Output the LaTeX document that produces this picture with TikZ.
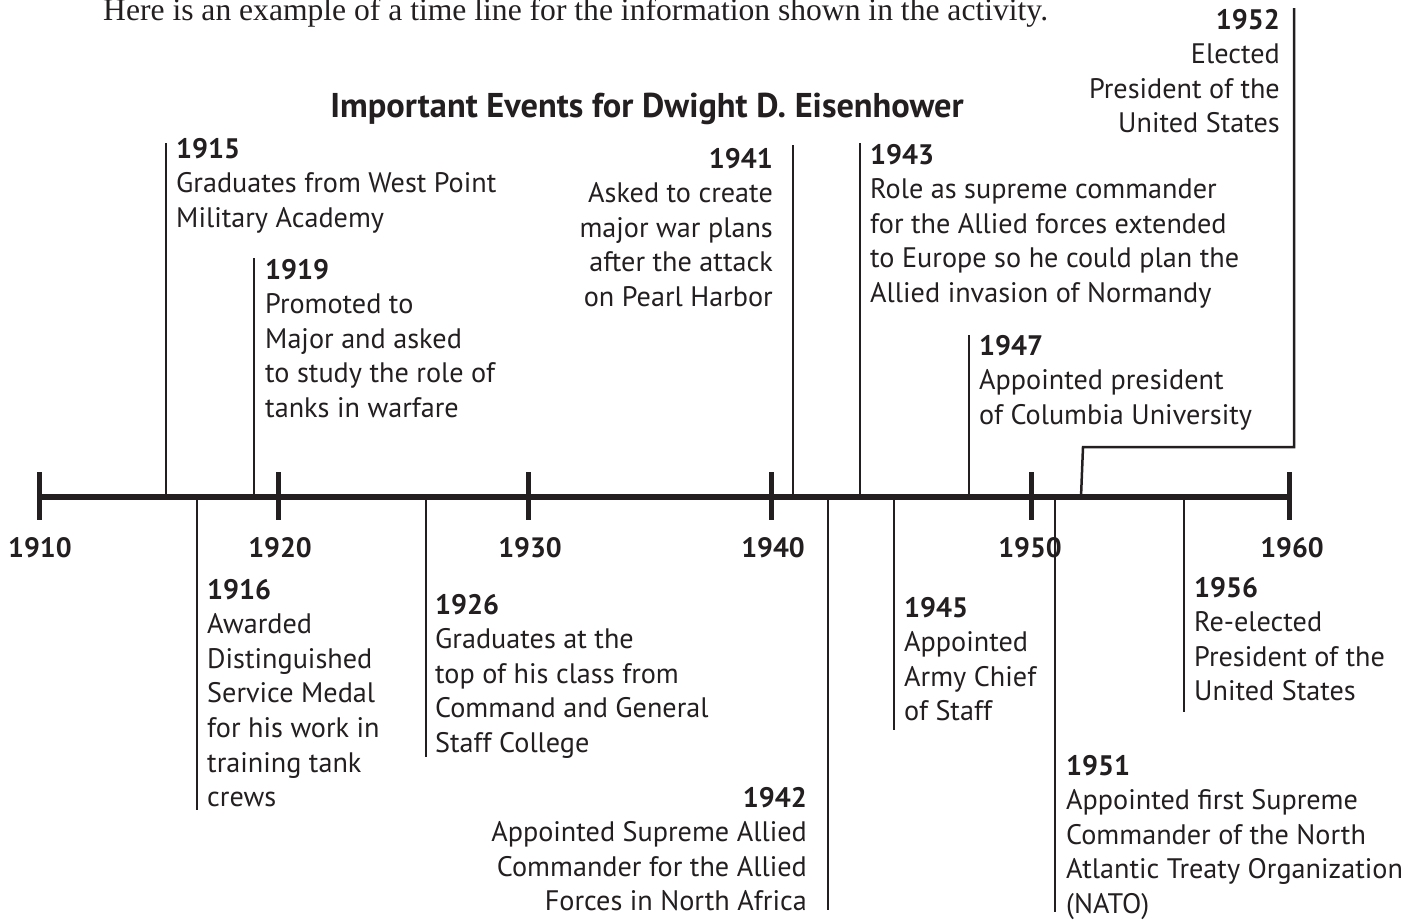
\documentclass[tikz,border=0pt]{standalone}
\usepackage{fontspec}
\setmainfont{PT Sans}
\newfontfamily\introfont{Liberation Serif}
\definecolor{ink}{RGB}{35,31,32}
\newcommand\evl[1]{\begin{tabular}[t]{@{}l@{}}#1\end{tabular}}
\newcommand\evr[1]{\begin{tabular}[t]{@{}r@{}}#1\end{tabular}}
\begin{document}
\begin{tikzpicture}[x=1pt,y=-1pt,
  axisline/.style={draw=ink,line width=6pt},
  tickline/.style={draw=ink,line width=5pt},
  evline/.style={draw=ink,line width=2.5pt},
  evtext/.style={inner sep=0pt,text=ink,font=\fontsize{28.2}{34.6}\selectfont},
  yearlab/.style={inner sep=0pt,text=ink,font=\bfseries\fontsize{28}{34}\selectfont,anchor=base},
]
\useasboundingbox (0,0) rectangle (1420,919);
% intro sentence (cut at top, as in the reference)
\node[inner sep=0pt,text=ink,anchor=base west,font=\introfont\fontsize{31.6}{34}\selectfont] (intro) at (103,20) {Here is an example of a time line for the information shown in the activity.};
% title
\node[inner sep=0pt,text=ink,anchor=base,font=\bfseries\fontsize{34.4}{40}\selectfont] (title) at (647,117) {Important Events for Dwight D. Eisenhower};
% axis
\coordinate (a0) at (38,497);
\coordinate (a1) at (1290,497);
\draw[axisline] (a0) -- (a1);
\foreach \x/\y in {39/1910,278/1920,528/1930,771/1940,1031/1950,1289/1960}{
  \coordinate (t\y a) at (\x,472);
  \coordinate (t\y b) at (\x,520);
  \draw[tickline] (t\y a) -- (t\y b);
}
\node[yearlab] (y1910) at (40,557) {1910};
\node[yearlab] (y1920) at (280,557) {1920};
\node[yearlab] (y1930) at (530,557) {1930};
\node[yearlab] (y1940) at (773,557) {1940};
\node[yearlab] (y1950) at (1030,557) {1950};
\node[yearlab] (y1960) at (1292,557) {1960};
% ---- events above
\coordinate (l1915a) at (166,497); \coordinate (l1915b) at (166,143);
\draw[evline] (l1915a) -- (l1915b);
\node[evtext,anchor=base west] (e1915) at (176,158) {\evl{\textbf{1915}\\Graduates from West Point\\Military Academy}};

\coordinate (l1919a) at (254,497); \coordinate (l1919b) at (254,258);
\draw[evline] (l1919a) -- (l1919b);
\node[evtext,anchor=base west] (e1919) at (265,279) {\evl{\textbf{1919}\\Promoted to\\Major and asked\\to study the role of\\tanks in warfare}};

\coordinate (l1941a) at (793,497); \coordinate (l1941b) at (793,145);
\draw[evline] (l1941a) -- (l1941b);
\node[evtext,anchor=base east] (e1941) at (773,168) {\evr{\textbf{1941}\\Asked to create\\major war plans\\after the attack\\on Pearl Harbor}};

\coordinate (l1943a) at (860,497); \coordinate (l1943b) at (860,143);
\draw[evline] (l1943a) -- (l1943b);
\node[evtext,anchor=base west] (e1943) at (870,164) {\evl{\textbf{1943}\\Role as supreme commander\\for the Allied forces extended\\to Europe so he could plan the\\Allied invasion of Normandy}};

\coordinate (l1947a) at (969,497); \coordinate (l1947b) at (969,335);
\draw[evline] (l1947a) -- (l1947b);
\node[evtext,anchor=base west] (e1947) at (979,355) {\evl{\textbf{1947}\\Appointed president\\of Columbia University}};

\coordinate (l1952a) at (1081,497); \coordinate (l1952b) at (1083,447);
\coordinate (l1952c) at (1294,447); \coordinate (l1952d) at (1294,8);
\draw[evline] (l1952a) -- (l1952b) -- (l1952c) -- (l1952d);
\node[evtext,anchor=base east] (e1952) at (1280,29) {\evr{\textbf{1952}\\Elected\\President of the\\United States}};
% ---- events below
\coordinate (l1916a) at (197,497); \coordinate (l1916b) at (197,810);
\draw[evline] (l1916a) -- (l1916b);
\node[evtext,anchor=base west] (e1916) at (207,599) {\evl{\textbf{1916}\\Awarded\\Distinguished\\Service Medal\\for his work in\\training tank\\crews}};

\coordinate (l1926a) at (426,497); \coordinate (l1926b) at (426,757);
\draw[evline] (l1926a) -- (l1926b);
\node[evtext,anchor=base west] (e1926) at (435,614) {\evl{\textbf{1926}\\Graduates at the\\top of his class from\\Command and General\\Staff College}};

\coordinate (l1942a) at (828,497); \coordinate (l1942b) at (828,910);
\draw[evline] (l1942a) -- (l1942b);
\node[evtext,anchor=base east] (e1942) at (807,807) {\evr{\textbf{1942}\\Appointed Supreme Allied\\Commander for the Allied\\Forces in North Africa}};

\coordinate (l1945a) at (894,497); \coordinate (l1945b) at (894,730);
\draw[evline] (l1945a) -- (l1945b);
\node[evtext,anchor=base west] (e1945) at (904,617) {\evl{\textbf{1945}\\Appointed\\Army Chief\\of Staff}};

\coordinate (l1951a) at (1055,497); \coordinate (l1951b) at (1055,912);
\draw[evline] (l1951a) -- (l1951b);
\node[evtext,anchor=base west] (e1951) at (1066,775) {\evl{\textbf{1951}\\Appointed first Supreme\\Commander of the North\\Atlantic Treaty Organization\\(NATO)}};

\coordinate (l1956a) at (1184,497); \coordinate (l1956b) at (1184,712);
\draw[evline] (l1956a) -- (l1956b);
\node[evtext,anchor=base west] (e1956) at (1194,597) {\evl{\textbf{1956}\\Re-elected\\President of the\\United States}};
\end{tikzpicture}
\end{document}
